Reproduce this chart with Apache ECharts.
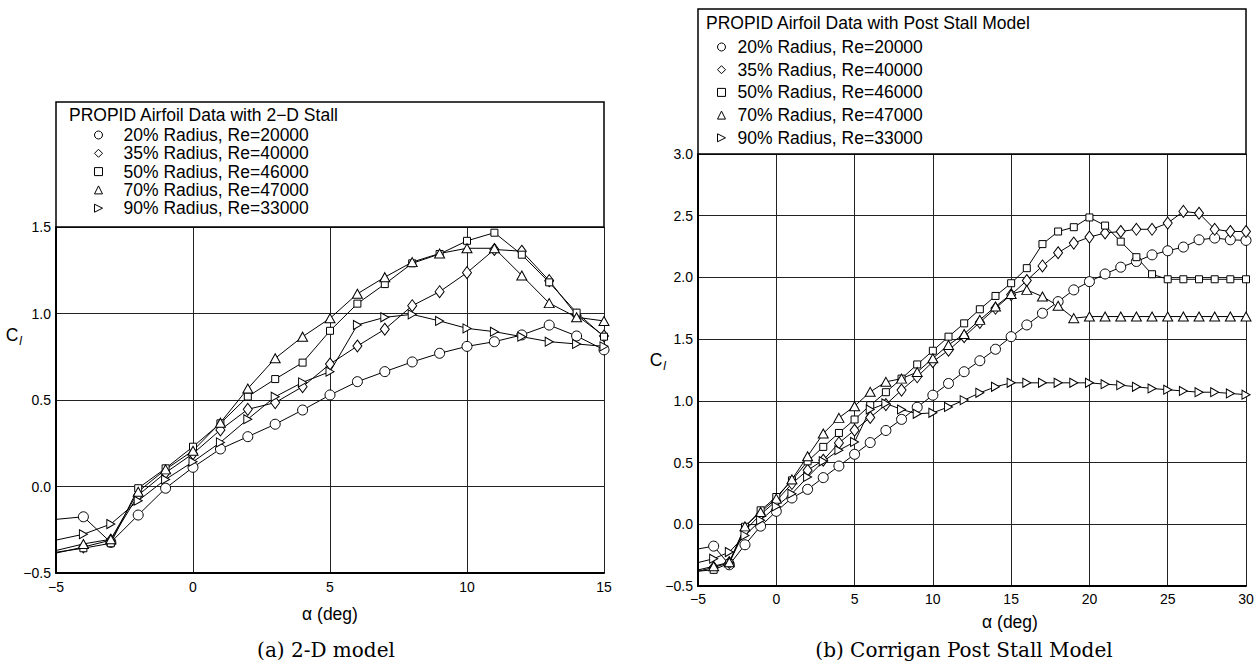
<!DOCTYPE html>
<html><head><meta charset="utf-8">
<script src="https://cdn.jsdelivr.net/npm/echarts@6/dist/echarts.min.js"></script>
<style>html,body{margin:0;padding:0;background:#fff}#c{width:1260px;height:671px}</style>
</head><body><div id="c"></div>
<script>
// ---- data ----
const seriesNames = ['20% Radius, Re=20000','35% Radius, Re=40000','50% Radius, Re=46000','70% Radius, Re=47000','90% Radius, Re=33000'];
const titleA = 'PROPID Airfoil Data with 2\u2212D Stall';
const titleB = 'PROPID Airfoil Data with Post Stall Model';
const captionA = '(a) 2-D model';
const captionB = '(b) Corrigan Post Stall Model';
const axisTitleX = '\u03b1 (deg)';

// (a) 2-D model, alpha -5..15
const alphaA = [-5,-4,-3,-2,-1,0,1,2,3,4,5,6,7,8,9,10,11,12,13,14,15];
const a20 = [-0.19,-0.175,-0.323,-0.165,-0.01,0.111,0.217,0.288,0.36,0.442,0.529,0.606,0.664,0.72,0.77,0.81,0.837,0.876,0.933,0.87,0.79];
const a35 = [-0.385,-0.35,-0.31,-0.05,0.08,0.19,0.327,0.446,0.485,0.577,0.708,0.812,0.909,1.045,1.126,1.236,1.37,1.36,1.19,0.99,0.87];
const a50 = [-0.38,-0.357,-0.328,-0.01,0.105,0.23,0.365,0.52,0.621,0.716,0.90,1.057,1.17,1.29,1.344,1.42,1.467,1.34,1.18,1.005,0.866];
const a70 = [-0.37,-0.332,-0.305,-0.03,0.099,0.207,0.369,0.566,0.741,0.866,0.972,1.114,1.21,1.297,1.347,1.377,1.377,1.22,1.06,0.978,0.957];
const a90 = [-0.31,-0.276,-0.217,-0.082,0.041,0.143,0.255,0.389,0.519,0.602,0.664,0.934,0.978,0.995,0.957,0.914,0.895,0.866,0.837,0.824,0.81];

// (b) Corrigan post stall model, alpha -5..30
const alphaB = [-5,-4,-3,-2,-1,0,1,2,3,4,5,6,7,8,9,10,11,12,13,14,15,16,17,18,19,20,21,22,23,24,25,26,27,28,29,30];
const b20 = [-0.2,-0.177,-0.328,-0.166,-0.015,0.105,0.213,0.283,0.378,0.472,0.567,0.662,0.76,0.85,0.948,1.046,1.141,1.236,1.325,1.418,1.52,1.615,1.71,1.804,1.899,1.966,2.028,2.083,2.129,2.183,2.216,2.246,2.305,2.319,2.305,2.3];
const b35 = [-0.38,-0.35,-0.31,-0.05,0.08,0.19,0.33,0.438,0.519,0.659,0.762,0.865,0.97,1.087,1.195,1.317,1.41,1.52,1.636,1.75,1.86,1.975,2.093,2.2,2.278,2.327,2.36,2.372,2.39,2.39,2.44,2.535,2.52,2.39,2.372,2.372];
const b50 = [-0.38,-0.369,-0.315,-0.02,0.113,0.221,0.356,0.51,0.627,0.74,0.849,0.965,1.07,1.18,1.295,1.406,1.52,1.628,1.742,1.85,1.953,2.075,2.27,2.372,2.407,2.486,2.42,2.29,2.164,2.026,1.985,1.985,1.985,1.985,1.985,1.985];
const b70 = [-0.37,-0.34,-0.307,-0.017,0.099,0.208,0.364,0.551,0.735,0.862,0.957,1.073,1.154,1.18,1.233,1.345,1.453,1.542,1.656,1.764,1.866,1.899,1.845,1.77,1.67,1.683,1.683,1.683,1.683,1.683,1.683,1.683,1.683,1.683,1.683,1.683];
const b90 = [-0.31,-0.279,-0.225,-0.09,0.032,0.145,0.248,0.383,0.51,0.6,0.667,0.93,0.979,0.93,0.895,0.903,0.951,1.006,1.065,1.114,1.146,1.146,1.146,1.146,1.146,1.146,1.135,1.127,1.114,1.10,1.09,1.08,1.07,1.07,1.06,1.05];

const xTicksA = [-5,0,5,10,15];
const xTicksB = [-5,0,5,10,15,20,25,30];
const yTicksA = [-0.5,0,0.5,1.0,1.5];
const yTicksB = [-0.5,0,0.5,1.0,1.5,2.0,2.5,3.0];

// ---- styling ----
const FONT = 'Liberation Sans, Arial, sans-serif';
const RTRI = 'path://M0,0L10,5L0,10Z';
const symbols = ['circle','diamond','rect','triangle',RTRI];
const symSizes = [10,[9,12],7,[10,9],[8,9]];
const legendIcons = ['circle','diamond','rect','triangle',RTRI];
const minus = s => String(s).replace('-', '\u2212');

function mk(i, xs, ys, gi) {
  return {
    type:'line', name: seriesNames[i], xAxisIndex: gi, yAxisIndex: gi,
    data: xs.map((x,k) => k === 0 ? {value:[x, ys[k]], symbol:'none'} : [x, ys[k]]),
    symbol: symbols[i], symbolSize: symSizes[i], showAllSymbol: true,
    lineStyle: {color:'#000', width:1},
    itemStyle: {color:'#fff', borderColor:'#000', borderWidth:1},
    emphasis: {disabled:true}, animation:false, clip:false
  };
}

function xAxis(gi, ticks, gap, pad, margin) {
  return {
    type:'value', gridIndex: gi, min: ticks[0], max: ticks[ticks.length-1], interval: 5,
    axisLine: {show:true, onZero:false, lineStyle:{color:'#000', width:2}},
    axisTick: {show:false},
    splitLine: {show:true, lineStyle:{color:'#222', width:1}},
    axisLabel: {color:'#000', fontSize:14, fontFamily:FONT, margin: margin, formatter: v => minus(v)},
    name: axisTitleX, nameLocation:'middle', nameGap: gap, nameMoveOverlap:false,
    nameTextStyle: {color:'#000', fontSize:17.5, fontFamily:FONT, padding: pad}
  };
}
function yAxis(gi, ticks, gap, pad) {
  return {
    type:'value', gridIndex: gi, min: ticks[0], max: ticks[ticks.length-1], interval: 0.5,
    axisLine: {show:true, onZero:false, lineStyle:{color:'#000', width:2}},
    axisTick: {show:false},
    splitLine: {show:true, lineStyle:{color:'#222', width:1}},
    axisLabel: {color:'#000', fontSize:14, fontFamily:FONT, margin:5, formatter: v => minus(v.toFixed(1))},
    name: '{a|C}{b|l}', nameLocation:'middle', nameRotate:0, nameGap: gap, nameMoveOverlap:false,
    nameTextStyle: {padding: pad, rich: {
      a: {fontSize:17.5, fontFamily:FONT, color:'#000'},
      b: {fontSize:12, fontFamily:FONT, fontStyle:'italic', color:'#000', padding:[12,0,0,1]}
    }}
  };
}
function legend(left, top, gap, textPad) {
  return {
    orient:'vertical', left: left, top: top, padding:0, itemGap: gap,
    itemWidth: 8, itemHeight: 8, selectedMode:false,
    data: seriesNames.map((n,i) => ({name:n, icon: legendIcons[i]})),
    itemStyle: {color:'#fff', borderColor:'#000', borderWidth:1},
    textStyle: {color:'#000', fontSize:17.5, fontFamily:FONT, lineHeight:18, padding:[0,0,0,textPad]}
  };
}

const chart = echarts.init(document.getElementById('c'), null, {renderer:'svg'});
chart.setOption({
  animation:false,
  backgroundColor:'#fff',
  grid: [
    {left:56, top:227, width:548, height:346},
    {left:698, top:154, width:548, height:432}
  ],
  xAxis: [xAxis(0, xTicksA, 32, [0,0,0,0], 7), xAxis(1, xTicksB, 27, [0,0,0,76], 6)],
  yAxis: [yAxis(0, yTicksA, 34, [0,0,130,0]), yAxis(1, yTicksB, 32, [0,0,20,0])],
  legend: [legend(94, 126, 0.3, 16), legend(717, 38, 4.7, 7)],
  series: [
    mk(0, alphaA, a20, 0), mk(1, alphaA, a35, 0), mk(2, alphaA, a50, 0), mk(3, alphaA, a70, 0), mk(4, alphaA, a90, 0),
    mk(0, alphaB, b20, 1), mk(1, alphaB, b35, 1), mk(2, alphaB, b50, 1), mk(3, alphaB, b70, 1), mk(4, alphaB, b90, 1)
  ],
  graphic: [
    {type:'rect', shape:{x:56, y:102, width:548, height:125}, style:{fill:'none', stroke:'#000', lineWidth:1.5}, z:10},
    {type:'rect', shape:{x:698, y:9, width:548, height:145}, style:{fill:'none', stroke:'#000', lineWidth:1.5}, z:10},
    {type:'text', x:69, y:115, style:{text:titleA, font:'17.5px '+FONT, fill:'#000', textVerticalAlign:'middle'}},
    {type:'text', x:706, y:23, style:{text:titleB, font:'17.5px '+FONT, fill:'#000', textVerticalAlign:'middle'}},
    {type:'text', x:326, y:650, style:{text:captionA, font:'20px DejaVu Serif, serif', fill:'#000', textAlign:'center', textVerticalAlign:'middle'}},
    {type:'text', x:964, y:650, style:{text:captionB, font:'20px DejaVu Serif, serif', fill:'#000', textAlign:'center', textVerticalAlign:'middle'}}
  ]
});
</script></body></html>
